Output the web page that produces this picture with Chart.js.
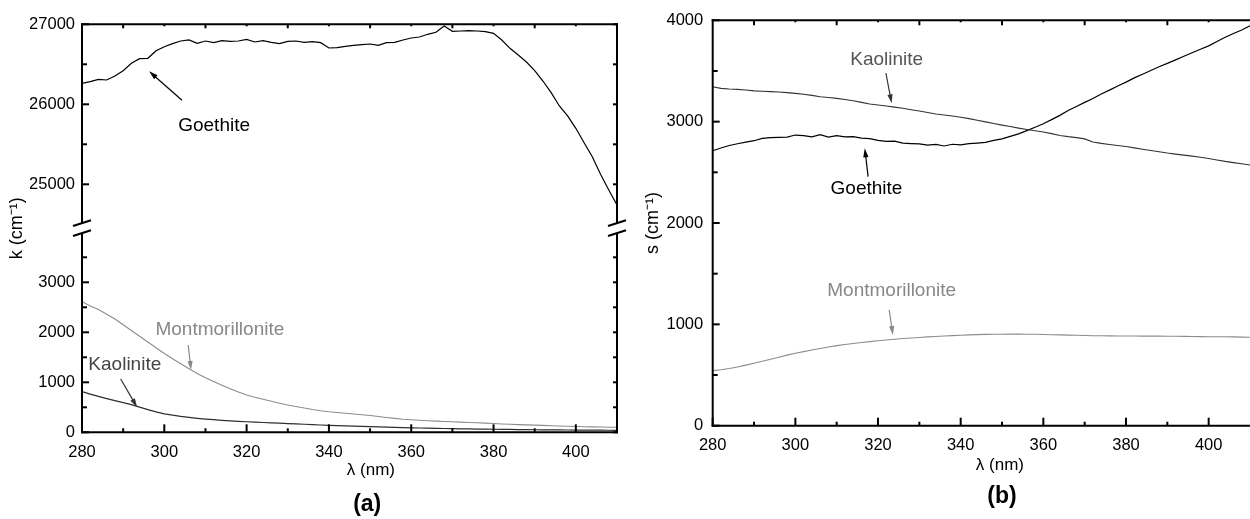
<!DOCTYPE html>
<html><head><meta charset="utf-8">
<script src="https://cdn.jsdelivr.net/npm/chart.js@4.4.1/dist/chart.umd.min.js"></script>
<style>
html,body{margin:0;padding:0;background:#fff;width:1250px;height:519px;overflow:hidden;}
#ca{position:absolute;left:0;top:0;}
#cb{position:absolute;left:640px;top:0;}
</style></head><body>
<canvas id="ca" width="640" height="519"></canvas>
<canvas id="cb" width="610" height="519"></canvas>
<script>
// ---- data ----
const wavelength = [280,282,284,286,288,290,292,294,296,298,300,302,304,306,308,310,312,314,316,318,320,322,324,326,328,330,332,334,336,338,340,342,344,346,348,350,352,354,356,358,360,362,364,366,368,370,372,374,376,378,380,382,384,386,388,390,392,394,396,398,400,402,404,406,408,410];

// panel (a): absorption coefficient k (cm^-1)
const goethiteK = [26262,26283,26312,26304,26354,26420,26512,26570,26575,26670,
  26720,26758,26791,26804,26762,26791,26770,26795,26787,26791,
  26812,26779,26795,26775,26758,26787,26791,26775,26783,26770,
  26704,26708,26725,26737,26745,26754,26737,26770,26775,26804,
  26829,26841,26875,26900,26979,26912,26916,26920,26916,26908,
  26887,26804,26700,26616,26529,26420,26291,26145,25979,25854,
  25700,25520,25345,25125,24929,24741];
const montmorilloniteK = [2613,2525,2455,2360,2265,2150,2035,1920,1805,1690,
  1575,1470,1370,1270,1175,1090,1015,940,870,805,
  745,700,660,620,580,545,515,485,455,430,
  410,395,380,365,350,335,315,295,278,262,
  250,240,232,224,217,210,204,197,190,183,
  175,166,160,154,149,144,138,132,126,120,
  116,112,108,105,102,100];
const kaoliniteK = [813,765,718,675,634,594,552,505,455,410,
  370,342,318,298,280,265,252,240,228,219,
  211,203,196,189,182,175,168,161,153,146,
  140,134,128,123,117,112,107,102,98,94,
  90,86,82,79,76,73,70,67,65,63,
  61,59,57,55,53,51,50,48,47,46,
  45,44,43,42,41,40];

// panel (b): scattering coefficient s (cm^-1)
const goethiteS = [2713,2740,2765,2782,2798,2812,2835,2842,2845,2848,
  2868,2862,2850,2872,2848,2862,2850,2853,2838,2832,
  2815,2806,2808,2788,2784,2780,2768,2775,2760,2777,
  2770,2783,2789,2795,2815,2830,2855,2880,2912,2945,
  2980,3020,3062,3110,3150,3190,3228,3272,3311,3352,
  3390,3432,3468,3505,3541,3575,3610,3645,3680,3714,
  3748,3790,3832,3870,3905,3945];
const kaoliniteS = [3345,3328,3322,3318,3312,3304,3300,3296,3292,3286,
  3279,3270,3259,3246,3238,3230,3218,3207,3190,3174,
  3164,3154,3143,3132,3118,3105,3090,3075,3065,3055,
  3043,3030,3014,2998,2982,2966,2952,2936,2922,2910,
  2898,2882,2864,2852,2842,2830,2800,2786,2775,2765,
  2755,2741,2728,2716,2703,2690,2680,2670,2660,2648,
  2636,2622,2608,2596,2584,2572];
const montmorilloniteS = [543,552,564,580,598,617,636,656,676,696,
  714,731,747,762,777,790,801,811,821,830,
  838,846,853,860,866,871,876,880,885,889,
  893,896,899,901,902,903,904,904,903,902,
  900,898,896,894,892,890,888,887,886,885,
  885,885,884,884,884,883,882,881,880,879,
  878,877,877,876,874,872];

// tick values
const xMajorTicks = [280,300,320,340,360,380,400];
const xMinorTicks = [290,310,330,350,370,390];
const xTopMajorTicks = [290,310,330,350,370,390];
const xTopMinorTicks = [300,320,340,360,380,400];
const kUpperMajorTicks = [25000,26000,27000];
const kUpperMinorTicks = [25500,26500];
const kLowerMajorTicks = [0,1000,2000,3000];
const kLowerMinorTicks = [500,1500,2500,3500];
const sMajorTicks = [0,1000,2000,3000,4000];
const sMinorTicks = [500,1500,2500,3500];

// ---- rendering ----
const FONT = "'Liberation Sans', Arial, Helvetica, sans-serif";
Chart.defaults.font.family = FONT;
Chart.defaults.color = '#000';

function pts(ys){ return wavelength.map((x,i)=>({x:x, y:ys[i]})); }
function fixTicks(list){ return s => { s.ticks = list.map(v=>({value:v})); }; }

const marks = {
  id: 'marks',
  afterDraw(chart, args, o) {
    const ctx = chart.ctx, ca = chart.chartArea, xs = chart.scales.x;
    const L = ca.left, R = ca.right, T = ca.top, B = ca.bottom;
    const line = (x1,y1,x2,y2)=>{ctx.beginPath();ctx.moveTo(x1,y1);ctx.lineTo(x2,y2);ctx.stroke();};
    ctx.save();
    ctx.strokeStyle = '#000'; ctx.lineWidth = 2; ctx.lineCap = 'butt';
    // frame
    line(L-1, B, (o.right ? R+1 : R), B);
    line(L-1, T, (o.right ? R+1 : R), T);
    const sides = o.right ? [L, R] : [L];
    for (const sx of sides) {
      if (o.breakScale) {
        const s = chart.scales[o.breakScale].bottom;
        line(sx, T-1, sx, s-5);
        line(sx, s+5, sx, B+1);
        line(sx-9, s-2.3, sx+9, s-8);
        line(sx-9, s+7.7, sx+9, s+2);
      } else {
        line(sx, T-1, sx, B+1);
      }
    }
    // x ticks
    xMajorTicks.forEach(v=>{const p=xs.getPixelForValue(v); line(p,B,p,B-8);});
    xMinorTicks.forEach(v=>{const p=xs.getPixelForValue(v); line(p,B,p,B-4);});
    xTopMajorTicks.forEach(v=>{const p=xs.getPixelForValue(v); line(p,T,p,T+o.topMajor);});
    xTopMinorTicks.forEach(v=>{const p=xs.getPixelForValue(v); line(p,T,p,T+o.topMinor);});
    // y ticks
    for (const yt of o.yTicks) {
      const ys = chart.scales[yt.scale];
      yt.major.forEach(v=>{const p=ys.getPixelForValue(v); line(L,p,L+7,p); if(o.right) line(R,p,R-4,p);});
      yt.minor.forEach(v=>{const p=ys.getPixelForValue(v); line(L,p,L+5,p); if(o.right) line(R,p,R-4,p);});
    }
    // annotations with arrows
    ctx.textAlign = 'center'; ctx.textBaseline = 'middle';
    for (const a of o.notes) {
      const ys = chart.scales[a.scale];
      ctx.fillStyle = a.color; ctx.strokeStyle = a.arrowColor || a.color;
      ctx.font = '19px ' + FONT;
      ctx.fillText(a.text, xs.getPixelForValue(a.at[0]), ys.getPixelForValue(a.at[1]));
      const x1 = xs.getPixelForValue(a.from[0]), y1 = ys.getPixelForValue(a.from[1]);
      const x2 = xs.getPixelForValue(a.to[0]), y2 = ys.getPixelForValue(a.to[1]);
      const ang = Math.atan2(y2-y1, x2-x1), hl = 9, hw = 2.6;
      ctx.lineWidth = 1.2;
      line(x1, y1, x2 - Math.cos(ang)*hl*0.7, y2 - Math.sin(ang)*hl*0.7);
      ctx.fillStyle = a.arrowColor || a.color;
      ctx.beginPath();
      ctx.moveTo(x2, y2);
      ctx.lineTo(x2 - Math.cos(ang)*hl - Math.sin(ang)*hw, y2 - Math.sin(ang)*hl + Math.cos(ang)*hw);
      ctx.lineTo(x2 - Math.cos(ang)*hl + Math.sin(ang)*hw, y2 - Math.sin(ang)*hl - Math.cos(ang)*hw);
      ctx.closePath(); ctx.fill();
    }
    // captions under the x axis
    ctx.fillStyle = '#000';
    for (const c of o.captions) {
      ctx.font = c.font + ' ' + FONT;
      ctx.fillText(c.text, xs.getPixelForValue(c.x), B + c.dy);
    }
    ctx.restore();
  }
};

const lineDs = (label, data, axis, color, w) => ({label, data: pts(data), yAxisID: axis,
  borderColor: color, borderWidth: w, pointRadius: 0, tension: 0, fill: false});

const xScale = (pad) => ({
  type: 'linear', position: 'bottom', min: 280, max: 410,
  afterBuildTicks: fixTicks(xMajorTicks),
  afterFit: s => { s.height = 40; },
  grid: {display: false, drawTicks: false}, border: {display: false},
  ticks: {padding: pad, font: {size: 16.5}, color: '#000', autoSkip: false, maxRotation: 0, callback: v => String(v)}
});

new Chart(document.getElementById('ca'), {
  type: 'line',
  data: {datasets: [
    lineDs('Montmorillonite', montmorilloniteK, 'yLower', '#8c8c8c', 1.1),
    lineDs('Kaolinite', kaoliniteK, 'yLower', '#2e2e2e', 1.2),
    lineDs('Goethite', goethiteK, 'yUpper', '#000', 1.2)
  ]},
  options: {
    responsive: false, animation: false, events: [],
    layout: {padding: {top: 24.3, left: 0, right: 23, bottom: 46.7}},
    plugins: {legend: {display: false}, tooltip: {enabled: false},
      marks: {
        right: true, breakScale: 'yUpper', topMajor: 4, topMinor: 2,
        yTicks: [{scale: 'yUpper', major: kUpperMajorTicks, minor: kUpperMinorTicks},
                 {scale: 'yLower', major: kLowerMajorTicks, minor: kLowerMinorTicks}],
        notes: [
          {text: 'Goethite', scale: 'yUpper', color: '#000', at: [312.1, 25737], from: [304.3, 26050], to: [296.3, 26412]},
          {text: 'Montmorillonite', scale: 'yLower', color: '#888', at: [313.5, 2046], from: [305.8, 1746], to: [306.5, 1246]},
          {text: 'Kaolinite', scale: 'yLower', color: '#444', arrowColor: '#333', at: [290.4, 1346], from: [289.4, 1066], to: [293.4, 500]}
        ],
        captions: [
          {text: 'λ (nm)', x: 350.2, dy: 37.7, font: '17px'},
          {text: '(a)', x: 349.3, dy: 72.7, font: 'bold 23px'}
        ]
      }},
    scales: {
      x: xScale(10),
      yLower: {type: 'linear', position: 'left', stack: 'k', stackWeight: 1, min: 0, max: 4080,
        afterBuildTicks: fixTicks(kLowerMajorTicks), afterFit: s => { s.width = 52; },
        grid: {display: false, drawTicks: false}, border: {display: false},
        ticks: {padding: 7, font: {size: 16.5}, color: '#000', callback: v => String(v)}},
      yUpper: {type: 'linear', position: 'left', stack: 'k', stackWeight: 1, min: 24450, max: 27000,
        afterBuildTicks: fixTicks(kUpperMajorTicks), afterFit: s => { s.width = 52; },
        grid: {display: false, drawTicks: false}, border: {display: false},
        ticks: {padding: 7, font: {size: 16.5}, color: '#000', callback: v => String(v)}},
      yTitle: {type: 'linear', position: 'left', display: true, weight: 10,
        afterFit: s => { s.width = 30; },
        grid: {display: false, drawTicks: false}, border: {display: false}, ticks: {display: false},
        title: {display: true, text: 'k (cm⁻¹)', color: '#000', font: {size: 18}, padding: {top: 6, bottom: 0}}}
    }
  },
  plugins: [marks]
});

new Chart(document.getElementById('cb'), {
  type: 'line',
  data: {datasets: [
    lineDs('Kaolinite', kaoliniteS, 'y', '#333', 1.1),
    lineDs('Goethite', goethiteS, 'y', '#000', 1.2),
    lineDs('Montmorillonite', montmorilloniteS, 'y', '#8c8c8c', 1.1)
  ]},
  options: {
    responsive: false, animation: false, events: [],
    layout: {padding: {top: 20.3, left: 0, right: 0, bottom: 53.3}},
    plugins: {legend: {display: false}, tooltip: {enabled: false},
      marks: {
        right: false, breakScale: null, topMajor: 5, topMinor: 2,
        yTicks: [{scale: 'y', major: sMajorTicks, minor: sMinorTicks}],
        notes: [
          {text: 'Kaolinite', scale: 'y', color: '#555', arrowColor: '#333', at: [322.1, 3608], from: [321.9, 3480], to: [323.3, 3181]},
          {text: 'Goethite', scale: 'y', color: '#000', at: [317.2, 2335], from: [317.6, 2457], to: [316.8, 2737]},
          {text: 'Montmorillonite', scale: 'y', color: '#888', at: [323.3, 1336], from: [322.7, 1142], to: [323.6, 895]}
        ],
        captions: [
          {text: 'λ (nm)', x: 349.5, dy: 39.3, font: '17px'},
          {text: '(b)', x: 350, dy: 70.5, font: 'bold 23px'}
        ]
      }},
    scales: {
      x: xScale(9.7),
      y: {type: 'linear', position: 'left', min: 0, max: 4000,
        afterBuildTicks: fixTicks(sMajorTicks), afterFit: s => { s.width = 72.7; },
        grid: {display: false, drawTicks: false}, border: {display: false},
        ticks: {padding: 9.5, font: {size: 16.5}, color: '#000', callback: v => String(v)},
        title: {display: true, text: 's (cm⁻¹)', color: '#000', font: {size: 18}, padding: {top: 2.3, bottom: 0}}}
    }
  },
  plugins: [marks]
});
</script>
</body></html>
